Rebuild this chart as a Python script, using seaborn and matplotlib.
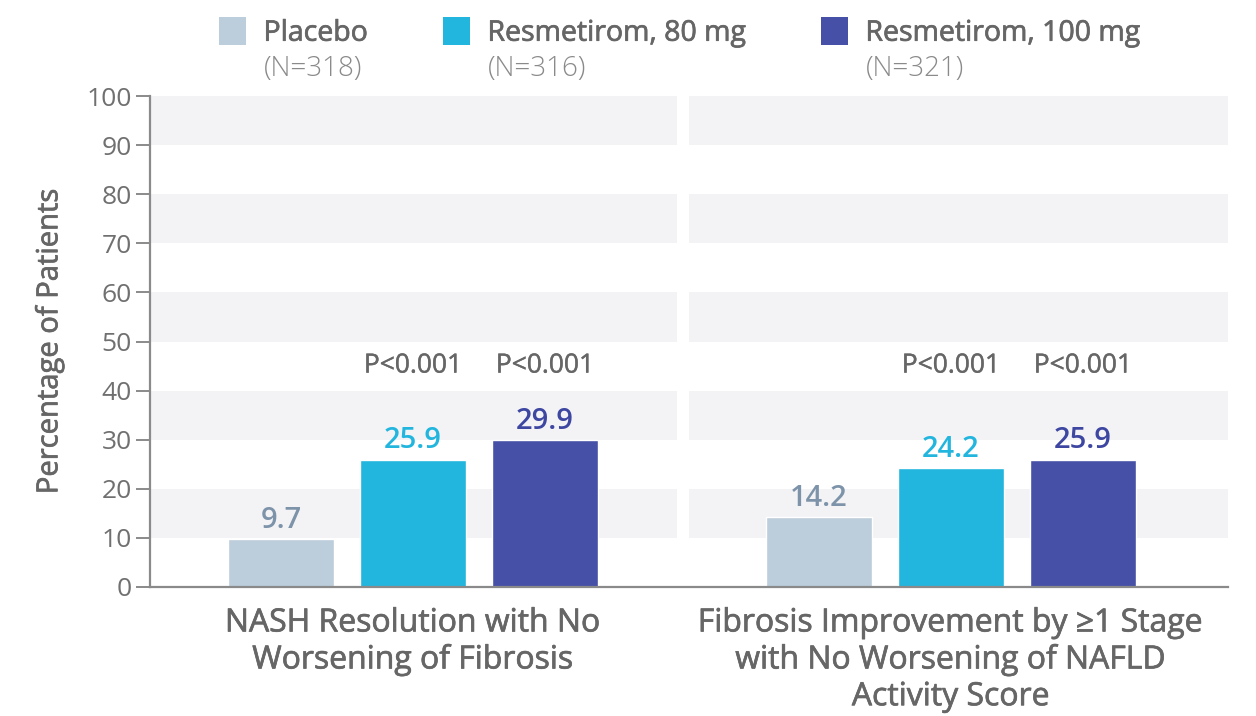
import matplotlib
matplotlib.use("Agg")
import matplotlib.pyplot as plt
import matplotlib.patheffects as pe
import seaborn as sns
import pandas as pd
from matplotlib.patches import Patch

# ---- data ----
endpoints = ["NASH Resolution with No\nWorsening of Fibrosis",
             "Fibrosis Improvement by \u22651 Stage\nwith No Worsening of NAFLD\nActivity Score"]
groups = ["Placebo", "Resmetirom, 80 mg", "Resmetirom, 100 mg"]
group_n = ["(N=318)", "(N=316)", "(N=321)"]
placebo = [9.7, 14.2]
resm80 = [25.9, 24.2]
resm100 = [29.9, 25.9]
p_values = {"Resmetirom, 80 mg": ["P<0.001", "P<0.001"],
            "Resmetirom, 100 mg": ["P<0.001", "P<0.001"]}
yticks = list(range(0, 101, 10))

bar_colors = ["#bccddb", "#22b5de", "#4650a6"]
label_colors = ["#7d93a9", "#22b5de", "#3d46a0"]
grey = "#666666"

df = pd.DataFrame({
    "endpoint": endpoints * 3,
    "group": [g for g in groups for _ in endpoints],
    "value": placebo + resm80 + resm100,
})

sns.set_theme(style="white")
plt.rcParams["font.family"] = ["Open Sans", "DejaVu Sans"]


def thick(color, w=0.5):
    return [pe.withStroke(linewidth=w, foreground=color)]


W, H = 1256, 716
fig = plt.figure(figsize=(W / 100, H / 100), dpi=100)
ax = fig.add_axes([150 / W, (H - 587) / H, (1228 - 150) / W, (587 - 96) / H])

# background bands
for lo in range(10, 100, 20):
    ax.axhspan(lo, lo + 10, color="#f3f3f6", zorder=0, lw=0)
ax.axvspan(0.4915, 0.5135, color="white", zorder=0.5, lw=0)

sns.barplot(data=df, x="endpoint", y="value", hue="group", order=endpoints,
            hue_order=groups, palette=bar_colors, width=0.736, gap=0.2,
            saturation=1, ax=ax, legend=False, zorder=2)

ax.set_xlim(-0.489, 1.515)
ax.set_ylim(0, 100)
ax.set_yticks(yticks)
ax.set_xlabel("")
ax.set_ylabel("Percentage of Patients", fontsize=21, color=grey, labelpad=16,
              path_effects=thick(grey))

# value labels
for gi, cont in enumerate(ax.containers):
    g = groups[gi]
    for bi, bar in enumerate(cont):
        xc = bar.get_x() + bar.get_width() / 2
        h = bar.get_height()
        ax.text(xc, h + 0.9, f"{h:.1f}", ha="center", va="bottom",
                fontsize=21, fontweight="semibold", color=label_colors[gi])
        if g in p_values:
            ax.text(xc, 45, p_values[g][bi], ha="center", va="center",
                    fontsize=19, color=grey, path_effects=thick(grey, 0.3))

# axes styling
for s in ["top", "right"]:
    ax.spines[s].set_visible(False)
ax.spines["left"].set_color("#8a8a8a")
ax.spines["left"].set_linewidth(1.6)
ax.spines["bottom"].set_color("#8a8a8a")
ax.spines["bottom"].set_linewidth(1.6)
ax.tick_params(axis="y", left=True, length=10, width=1.4, color="#8a8a8a",
               labelsize=19, labelcolor="#707070", pad=3)
ax.tick_params(axis="x", bottom=False, labelsize=23, labelcolor=grey, pad=8)
for t in ax.get_xticklabels():
    t.set_linespacing(1.15)
    t.set_path_effects(thick(grey))

# legend
handles = [Patch(facecolor=c, edgecolor="none") for c in bar_colors]
leg = fig.legend(handles, groups, ncol=3, loc="upper left",
                 bbox_to_anchor=(208 / W, 1 - 6 / H), frameon=False,
                 fontsize=20.5, handlelength=0.95, handleheight=1.1,
                 handletextpad=0.6, columnspacing=2.65, labelcolor=grey,
                 borderaxespad=0)
for t in leg.get_texts():
    t.set_path_effects(thick(grey))
fig.canvas.draw()
inv = fig.transFigure.inverted()
for txt, n in zip(leg.get_texts(), group_n):
    bb = txt.get_window_extent()
    x0, y0 = inv.transform((bb.x0, bb.y0))
    fig.text(x0, y0 - 7 / H, n, ha="left", va="top", fontsize=20,
             color="#8a8a8a", fontweight="light")

fig.savefig("out.png", dpi=100, facecolor="white")
